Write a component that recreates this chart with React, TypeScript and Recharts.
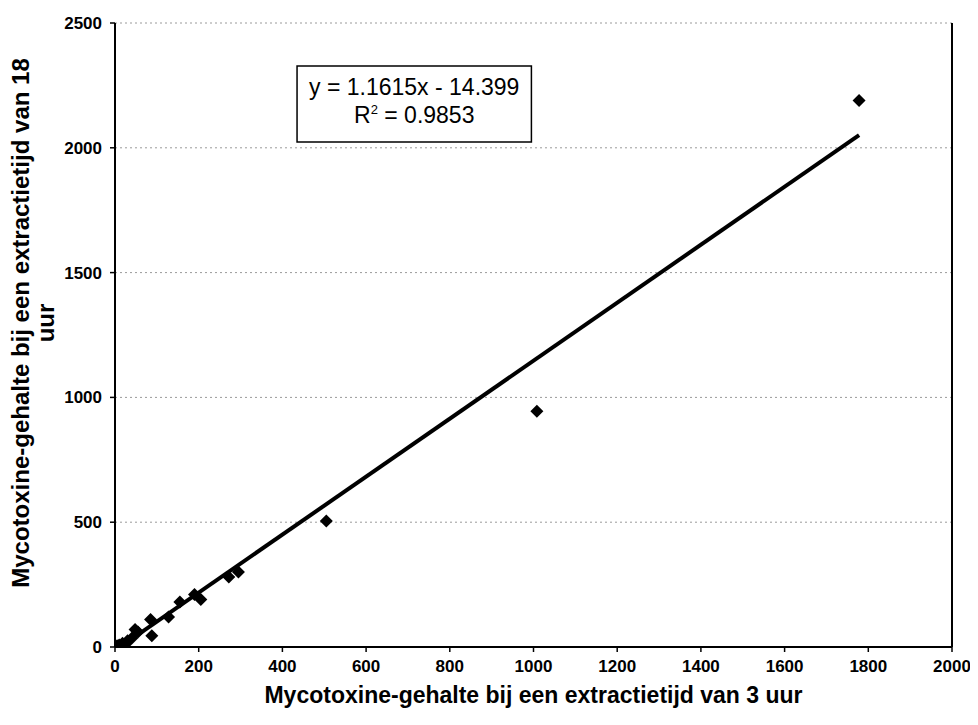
import React from 'react';
import {
  ComposedChart, Scatter, XAxis, YAxis, CartesianGrid, ReferenceLine, ReferenceArea,
} from 'recharts';

// mycotoxine-gehalte: 3 uur extractie (x) vs 18 uur extractie (y)
const xValues = [5, 10, 18, 25, 30, 40, 48, 55, 85, 88, 128, 155, 190, 205, 272, 295, 505, 1008, 1778];
const yValues = [5, 8, 15, 10, 25, 35, 70, 60, 110, 45, 120, 180, 210, 190, 280, 300, 505, 945, 2190];

const slope = 1.1615;
const intercept = -14.399;
const rSquared = 0.9853;

const xTicks = [0, 200, 400, 600, 800, 1000, 1200, 1400, 1600, 1800, 2000];
const yTicks = [0, 500, 1000, 1500, 2000, 2500];

const points = xValues.map((x, i) => ({ x, y: yValues[i] }));
const xMin = Math.min(...xValues);
const xMax = Math.max(...xValues);
const trend = [xMin, xMax].map(x => ({ x, y: slope * x + intercept }));

const font = '"Liberation Sans", Arial, sans-serif';

const Diamond = (props: any) => {
  const { cx, cy } = props;
  const r = 6.5;
  return (
    <polygon
      points={`${cx},${cy - r} ${cx + r},${cy} ${cx},${cy + r} ${cx - r},${cy}`}
      fill="#000"
    />
  );
};

const YTitle = ({ viewBox }: any) => {
  const cx = 14;
  const cy = viewBox.y + viewBox.height / 2 - 12;
  return (
    <text
      transform={`translate(${cx},${cy}) rotate(-90)`}
      textAnchor="middle"
      fontFamily={font}
      fontWeight="bold"
      fontSize={24}
      fill="#000"
    >
      <tspan x={0} dy="0.3em">Mycotoxine-gehalte bij een extractietijd van 18</tspan>
      <tspan x={0} dy={25}>uur</tspan>
    </text>
  );
};

const XTitle = ({ viewBox }: any) => (
  <text
    x={viewBox.x + viewBox.width / 2}
    y={viewBox.y + 56}
    textAnchor="middle"
    fontFamily={font}
    fontWeight="bold"
    fontSize={23}
    fill="#000"
  >
    Mycotoxine-gehalte bij een extractietijd van 3 uur
  </text>
);

const EquationBox = ({ viewBox }: any) => {
  const { x, y, width, height } = viewBox;
  const mid = x + width / 2;
  return (
    <text textAnchor="middle" fontFamily={font} fontSize={23} fill="#000">
      <tspan x={mid} y={y + height * 0.38}>
        {`y = ${slope}x - ${Math.abs(intercept)}`}
      </tspan>
      <tspan x={mid} y={y + height * 0.75}>
        R<tspan fontSize={13} dy={-9}>2</tspan>
        <tspan dy={9}>{` = ${rSquared}`}</tspan>
      </tspan>
    </text>
  );
};

const tickStyle = { fontFamily: font, fontWeight: 'bold', fontSize: 17, fill: '#000' };

export default function App() {
  return (
    <ComposedChart
      width={962}
      height={709}
      margin={{ top: 15, right: 18, bottom: 0, left: 47 }}
      style={{ background: '#fff' }}
    >
      <CartesianGrid
        vertical={false}
        stroke="#9a9a9a"
        strokeDasharray="2 3"
      />
      <XAxis
        type="number"
        dataKey="x"
        domain={[0, 2000]}
        ticks={xTicks}
        tick={tickStyle}
        tickSize={5}
        tickMargin={8}
        height={70}
        axisLine={{ stroke: '#000', strokeWidth: 2 }}
        tickLine={{ stroke: '#000', strokeWidth: 1.5 }}
        allowDataOverflow
        label={{ content: XTitle }}
      />
      <YAxis
        type="number"
        dataKey="y"
        domain={[0, 2500]}
        ticks={yTicks}
        tick={tickStyle}
        tickSize={5}
        tickMargin={8}
        width={60}
        axisLine={{ stroke: '#000', strokeWidth: 2 }}
        tickLine={{ stroke: '#000', strokeWidth: 1.5 }}
        allowDataOverflow
        label={{ content: YTitle }}
      />
      <ReferenceLine x={2000} stroke="#000" strokeWidth={2} />
      <Scatter
        data={trend}
        line={{ stroke: '#000', strokeWidth: 4 }}
        shape={() => null}
        isAnimationActive={false}
      />
      <Scatter data={points} shape={Diamond} isAnimationActive={false} />
      <ReferenceArea
        x1={435}
        x2={995}
        y1={2023}
        y2={2328}
        fill="#fff"
        fillOpacity={1}
        stroke="#000"
        strokeWidth={1.5}
        label={{ content: EquationBox }}
      />
    </ComposedChart>
  );
}
